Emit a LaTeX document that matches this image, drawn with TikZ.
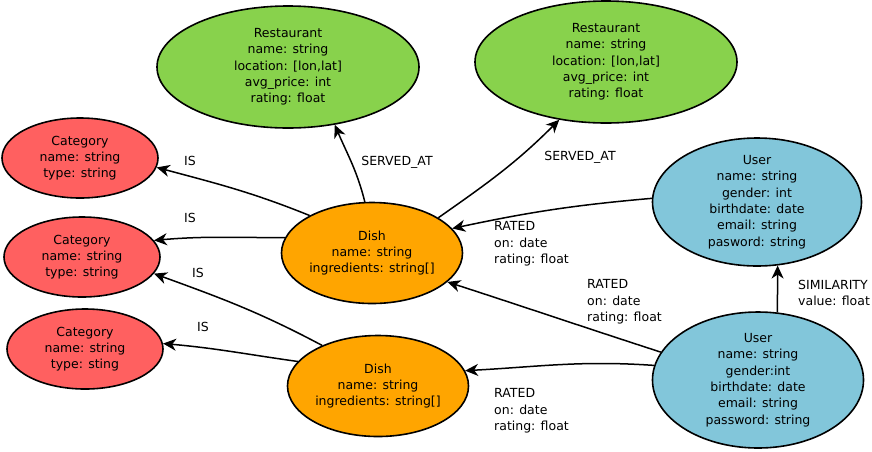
\documentclass[tikz,border=0pt]{standalone}
\usepackage{fontspec}
\setmainfont{DejaVu Sans}
\usetikzlibrary{shapes.geometric,arrows.meta}
\definecolor{catred}{RGB}{255,96,96}
\definecolor{resgreen}{RGB}{136,210,76}
\definecolor{dishorange}{RGB}{255,165,0}
\definecolor{userblue}{RGB}{130,198,218}
\begin{document}
\begin{tikzpicture}[x=1pt,y=-1pt,
  ent/.style={ellipse, draw=black, line width=1.6pt, inner sep=-14pt, align=center,
    font=\fontsize{12.5}{16.3}\selectfont, text=black},
  cat/.style={ent, fill=catred, minimum width=156pt, minimum height=80pt},
  rest/.style={ent, fill=resgreen, minimum width=262pt, minimum height=122pt},
  dish/.style={ent, fill=dishorange, minimum width=181pt, minimum height=101pt},
  usr/.style={ent, fill=userblue, minimum width=209pt, minimum height=130pt},
  lbl/.style={font=\fontsize{12.5}{16.3}\selectfont, align=left, inner sep=0pt, text=black},
  rel/.style={line width=1.5pt, -{Stealth[length=13pt,width=12pt,inset=4pt]}}
]
\useasboundingbox (0,0) rectangle (872,451);

\node[rest] (r1) at (288,67) {Restaurant\\name: string\\location: [lon,lat]\\avg\_price: int\\rating: float};
\node[rest] (r2) at (606,62) {Restaurant\\name: string\\location: [lon,lat]\\avg\_price: int\\rating: float};
\node[cat] (c1) at (80,158) {Category\\name: string\\type: string};
\node[cat] (c2) at (82,257) {Category\\name: string\\type: string};
\node[cat] (c3) at (85,349) {Category\\name: string\\type: sting};
\node[dish] (d1) at (372,253) {Dish\\name: string\\ingredients: string[]};
\node[dish] (d2) at (378,386) {Dish\\name: string\\ingredients: string[]};
\node[usr, minimum height=128pt] (u1) at (757,202) {User\\name: string\\gender: int\\birthdate: date\\email: string\\pasword: string};
\node[usr, minimum height=136pt, minimum width=211pt] (u2) at (758,380) {User\\name: string\\gender:int\\birthdate: date\\email: string\\password: string};

\draw[rel] (d1.149) to[out=158,in=-15] (c1.-7);
\draw[rel] (d1.170) to[out=180,in=5] (c2.13);
\draw[rel] (d2.144) to[out=152,in=-20] (c2.-13);
\draw[rel] (d2.163) to[out=172,in=-5] (c3.4);
\draw[rel] (d1.98) to[out=104,in=-67] (r1.-51);
\draw[rel] (d1.28) to[out=35,in=-135] (r2.-129);
\draw[rel] (u1.178) to[out=185,in=12] (d1.17);
\draw[rel] (u2.164) to[out=162,in=-18] (d1.-21);
\draw[rel] (u2.172) to[out=176,in=3] (d2.10);
\draw[rel] (u2.74) -- (u1.-72);

\node[lbl] (is1) at (190,161) {IS};
\node[lbl] (is2) at (190,218) {IS};
\node[lbl] (is3) at (198,273) {IS};
\node[lbl] (is4) at (203,327) {IS};
\node[lbl] (sa1) at (397,162) {SERVED\_AT};
\node[lbl] (sa2) at (580,157) {SERVED\_AT};
\node[lbl, anchor=west] (ra1) at (494,244) {RATED\\on: date\\rating: float};
\node[lbl, anchor=west] (ra2) at (587,302) {RATED\\on: date\\rating: float};
\node[lbl, anchor=west] (ra3) at (494,411) {RATED\\on: date\\rating: float};
\node[lbl, anchor=west] (sim) at (798,293) {SIMILARITY\\value: float};
\end{tikzpicture}
\end{document}
